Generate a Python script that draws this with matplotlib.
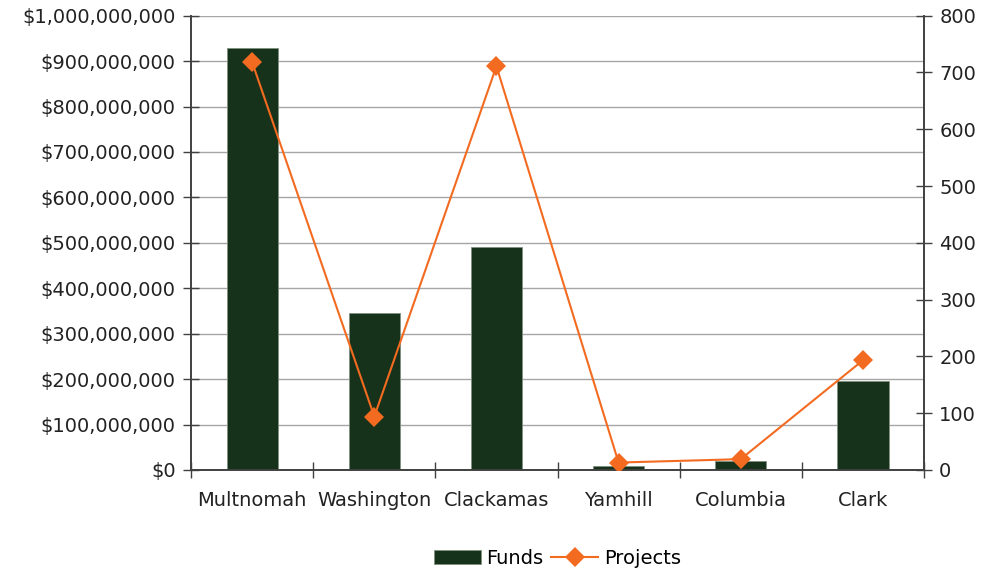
import matplotlib
matplotlib.use("Agg")
import matplotlib.pyplot as plt
from matplotlib.ticker import FuncFormatter, MultipleLocator

counties = ["Multnomah", "Washington", "Clackamas", "Yamhill", "Columbia", "Clark"]
funds = [928_000_000, 345_000_000, 490_000_000, 9_000_000, 20_000_000, 195_000_000]
projects = [718, 94, 711, 13, 19, 193]

bar_color = "#16321a"
line_color = "#f26b21"
text_color = "#222222"
axis_color = "#404040"

plt.rcParams["font.family"] = ["DejaVu Sans"]
plt.rcParams["font.size"] = 14

fig = plt.figure(figsize=(9.85, 5.71), dpi=100)
ax = fig.add_axes([0.194, 0.177, 0.744, 0.7955])
ax2 = ax.twinx()

x = list(range(len(counties)))
bars = ax.bar(x, funds, width=0.42, color=bar_color, edgecolor="#7f8f80",
              linewidth=0.6, label="Funds", zorder=2)
line, = ax2.plot(x, projects, color=line_color, linewidth=1.5, marker="D",
                 markersize=10, markeredgewidth=0, label="Projects", zorder=3)

ax.set_xlim(-0.5, len(counties) - 0.5)
ax.set_ylim(0, 1_000_000_000)
ax2.set_ylim(0, 800)
ax.yaxis.set_major_locator(MultipleLocator(100_000_000))
ax2.yaxis.set_major_locator(MultipleLocator(100))
ax.yaxis.set_major_formatter(FuncFormatter(lambda v, p: f"${v:,.0f}"))

ax.grid(axis="y", color="#a6a6a6", linewidth=1.0, zorder=0)
ax.set_axisbelow(True)

ax.set_xticks([i + 0.5 for i in x[:-1]] + [-0.5, len(counties) - 0.5])
ax.set_xticklabels([])
ax.set_xticks(x, minor=True)
ax.set_xticklabels(counties, minor=True)
ax.tick_params(axis="x", which="minor", length=0, pad=15, labelcolor=text_color)
ax.tick_params(axis="x", which="major", direction="inout", length=12,
               color=axis_color, width=1)
ax.tick_params(axis="y", direction="inout", length=12, color=axis_color,
               width=1, labelcolor=text_color, pad=5)
ax2.tick_params(axis="y", direction="inout", length=12, color=axis_color,
                width=1, labelcolor=text_color, pad=5)

for a in (ax, ax2):
    a.spines["top"].set_visible(False)
    for s in ("left", "right", "bottom"):
        a.spines[s].set_color(axis_color)
        a.spines[s].set_linewidth(1.2)

fig.legend(handles=[bars, line], labels=["Funds", "Projects"], loc="lower center",
           bbox_to_anchor=(0.566, -0.025), ncol=2, frameon=False, handlelength=2.4,
           columnspacing=0.4, handletextpad=0.3, fontsize=14)

fig.savefig("out.png", dpi=100)
